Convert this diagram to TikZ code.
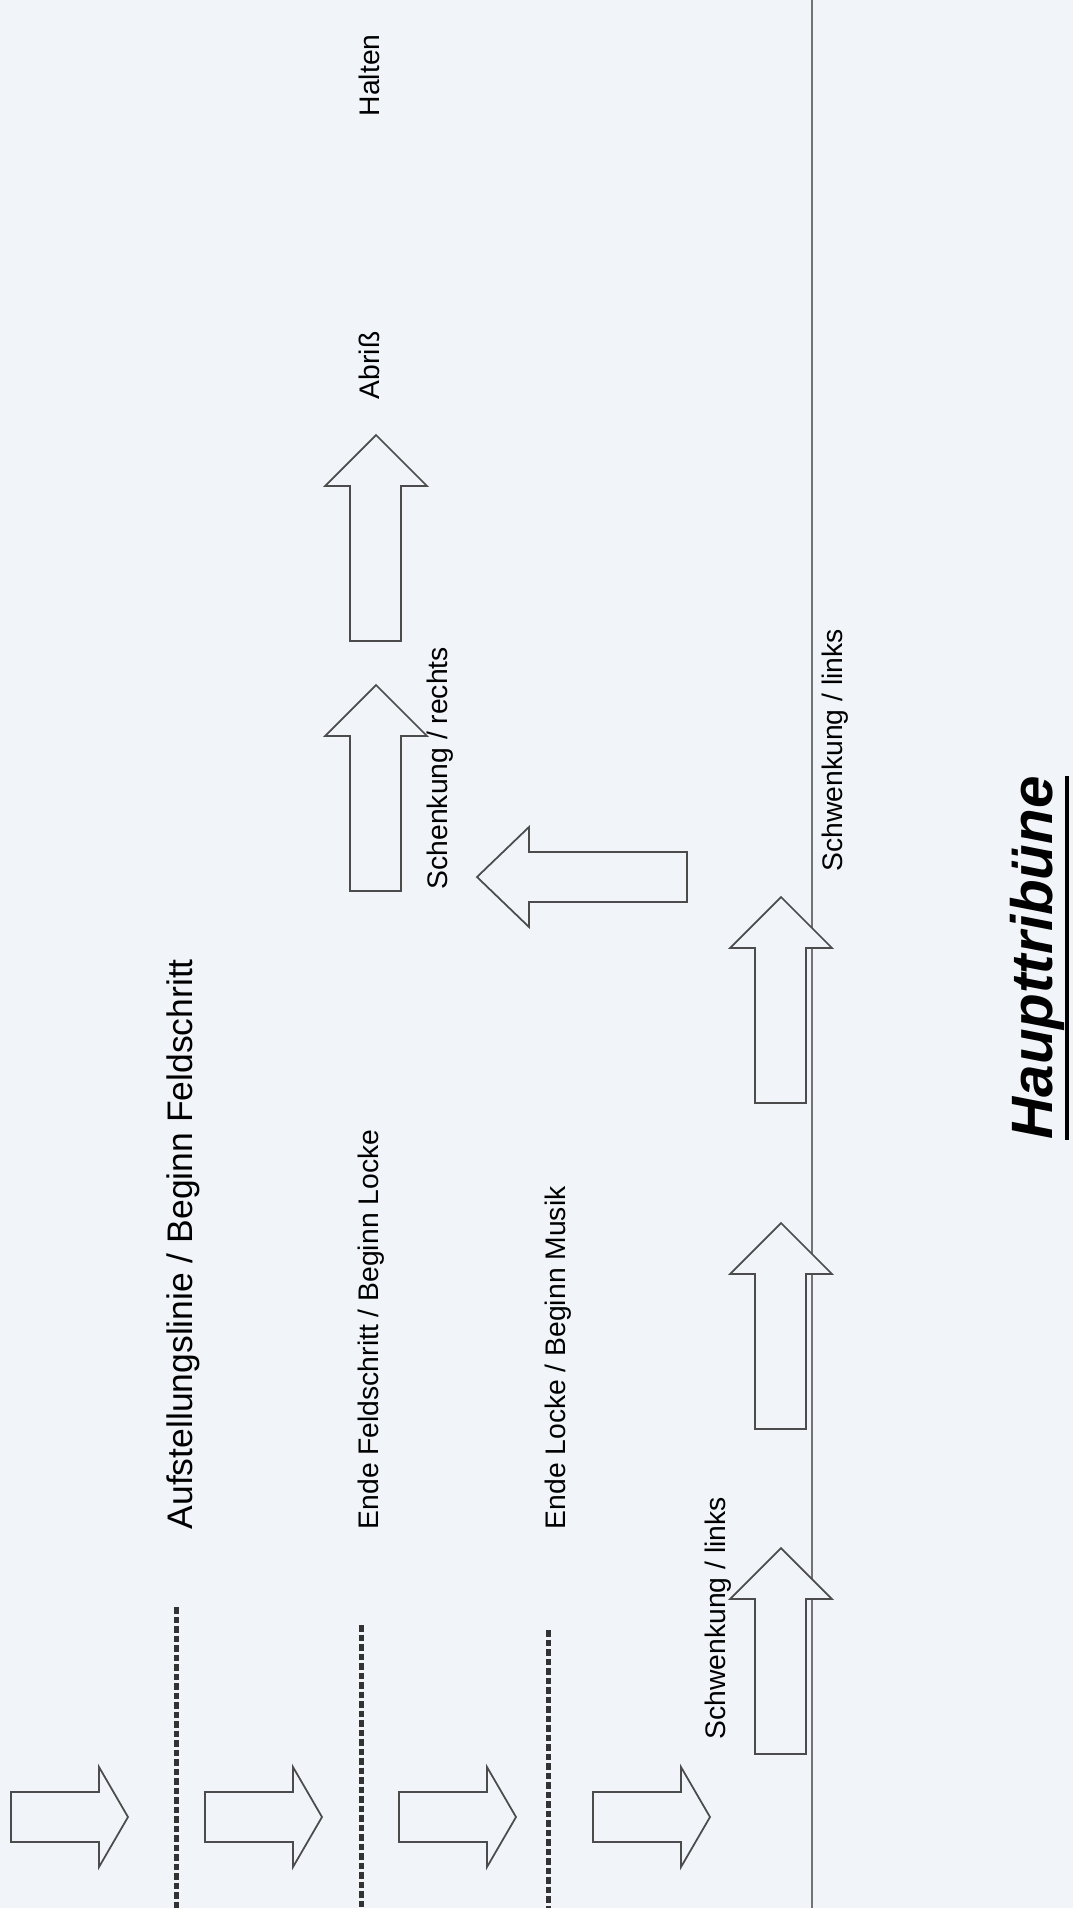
\documentclass[tikz,border=0pt]{standalone}
\usepackage{fontspec}
\setmainfont{Liberation Sans}
\definecolor{paper}{RGB}{241,245,250}
\begin{document}
\begin{tikzpicture}[x=1cm,y=-1cm,
	blockarrow/.style={draw=black!70,fill=paper,line width=0.5pt},
	markline/.style={line width=0.05cm,black!80,dash pattern=on 0.065cm off 0.03cm},
	lbl/.style={rotate=90,anchor=base west,inner sep=0pt,font=\fontsize{8.05}{10}\selectfont},
	biglbl/.style={lbl,font=\fontsize{10.1}{12}\selectfont}]
		\fill[paper] (0,0) rectangle (10.73,19.08);
		\useasboundingbox (0,0) rectangle (10.73,19.08);
		% Linie vor der Tribuene
		\draw[black!55,line width=0.6pt](8.12,0)--(8.12,19.08);
		% Markierungen
		\foreach \x/\y in {1.76/16.07,3.61/16.25,5.48/16.30}
			\draw[markline](\x,\y)--(\x,19.08);
		% Pfeile nach rechts
		\foreach \x in {0.11,2.05,3.99,5.93}
			\draw[blockarrow](\x,17.92)--++(0.88,0)--++(0,-0.25)--++(0.29,0.50)--++(-0.29,0.50)--++(0,-0.25)--++(-0.88,0)--cycle;
		% Pfeile nach oben
		\foreach \x/\y in {7.55/17.54,7.55/14.29,7.55/11.03,3.50/8.91,3.50/6.41}
			\draw[blockarrow](\x,\y)--++(0,-1.55)--++(-0.25,0)--++(0.51,-0.51)--++(0.51,0.51)--++(-0.26,0)--++(0,1.55)--cycle;
		% Pfeil nach links
		\draw[blockarrow](6.87,8.52)--++(-1.58,0)--++(0,-0.25)--++(-0.52,0.50)--++(0.52,0.50)--++(0,-0.25)--++(1.58,0)--cycle;
		% Texte
		\node[biglbl] (aufst) at (1.92,15.30) {Aufstellungslinie / Beginn Feldschritt};
		\node[lbl] (feld) at (3.78,15.30) {Ende Feldschritt / Beginn Locke};
		\node[lbl] (locke) at (5.65,15.30) {Ende Locke / Beginn Musik};
		\node[lbl] (schwlinksA) at (7.25,17.40) {Schwenkung / links};
		\node[lbl] (schwlinksB) at (8.42,8.72) {Schwenkung / links};
		\node[lbl] (schwrechts) at (4.47,8.90) {Schenkung / rechts};
		\node[lbl] (abriss) at (3.79,4.00) {Abriß};
		\node[lbl] (halten) at (3.79,1.17) {Halten};
		\node[lbl,font=\fontsize{16.6}{20}\selectfont\bfseries\itshape] (haupt) at (10.52,11.40) {Haupttribüne};
		\draw[line width=0.9pt]([xshift=0.15cm]haupt.base west)--([xshift=0.15cm]haupt.base east);
	    \end{tikzpicture}
\end{document}
